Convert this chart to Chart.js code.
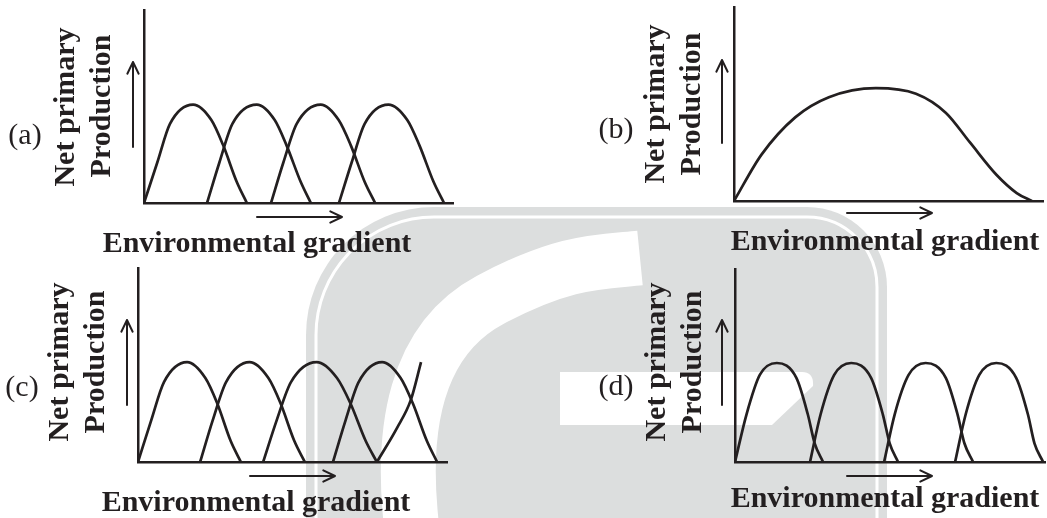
<!DOCTYPE html>
<html>
<head>
<meta charset="utf-8">
<script src="https://cdn.jsdelivr.net/npm/chart.js@4.4.1/dist/chart.umd.min.js"></script>
<style>
  html, body { margin: 0; padding: 0; background: #fff; }
  #page { position: relative; width: 1047px; height: 518px; overflow: hidden; }
  #page canvas, #wm { position: absolute; left: 0; top: 0; }
  .t { position: absolute; font-family: "Liberation Serif", "Times New Roman", serif; color: #231f20;
       white-space: nowrap; line-height: 1; font-size: 30px; }
  .bold { font-weight: bold; }
</style>
</head>
<body>
<div id="page">
  <!-- faint logo watermark behind the figure -->
  <svg id="wm" width="1047" height="518">
    <path d="M306 530 L306 335 A128 128 0 0 1 434 207 L807 207 A80 80 0 0 1 887 287 L887 530 Z" fill="#dcdede"/>
    <path d="M316 530 L316 335 A118 118 0 0 1 434 217 L807 217 A70 70 0 0 1 877 287 L877 530" fill="none" stroke="#fff" stroke-width="3"/>
    <path d="M412 530 C400 430 415 340 490 300 S600 262 640 258" fill="none" stroke="#fff" stroke-width="55"/>
    <path d="M560 372 L802 372 Q814 372 813 386 L772 425 L560 425 Z" fill="#fff"/>
  </svg>
  <canvas id="pa" width="1047" height="518"></canvas>
  <canvas id="pb" width="1047" height="518"></canvas>
  <canvas id="pc" width="1047" height="518"></canvas>
  <canvas id="pd" width="1047" height="518"></canvas>
</div>
<script>
// ---- data (x: environmental gradient, y: net primary production, arbitrary 0-100 units) ----
const panelTags = ['(a)', '(b)', '(c)', '(d)'];
const yTitle = ['Net primary', 'Production'];
const xTitle = 'Environmental gradient';

// (a) four overlapping species curves
const aCurve1 = [[0,0],[4.3,21],[8.4,41],[15.9,51],[21.8,43],[25.6,30],[30.0,11],[33.3,0]];
const aCurve2 = [[20.4,0],[24.4,21],[28.6,41],[36.5,51],[42.3,43],[46.1,30],[50.7,11],[54.0,0]];
const aCurve3 = [[41.1,0],[45.1,21],[49.4,41],[57.2,51],[63.0,43],[66.9,30],[71.4,11],[74.8,0]];
const aCurve4 = [[63.1,0],[67.2,21],[71.4,41],[79.1,51],[85.2,43],[89.1,30],[93.7,11],[97.1,0]];

// (b) one broad curve
const bCurve = [[0,0],[8.9,23.9],[19.8,43.1],[30.7,53.5],[45.9,58.2],[58.9,55.3],[68.6,45.4],
                [76.3,30.3],[85.0,13.4],[91.5,4.1],[96.4,0]];

// (c) curves overlapping, the last one cut off
const cCurve1 = [[0,0],[4.3,21.6],[8.4,41.2],[15.9,51.5],[21.8,43.3],[25.6,30.4],[30.0,10.8],[33.3,0]];
const cCurve2 = [[20.1,0],[24.2,21.6],[28.5,41.2],[36.1,51.5],[42.2,43.3],[46.1,30.4],[50.6,10.8],[54.0,0]];
const cCurve3 = [[40.5,0],[44.9,21.6],[49.5,41.2],[57.8,51.5],[64.4,43.3],[68.7,30.4],[73.7,10.8],[77.3,0]];
const cCurve4 = [[63.1,0],[67.2,21.6],[71.4,41.2],[79.0,51.5],[85.0,43.3],[88.9,30.4],[93.5,10.8],[96.8,0]];
const cCurve5 = [[77.3,0],[83.8,17.5],[88.3,32],[91.6,51.5]];

// (d) narrow curves, barely overlapping
const dCurve1 = [[0,0],[3.7,24.6],[8.0,45.1],[13.5,51.3],[19.8,43.6],[23.5,24.6],[25.7,9.7],[28.4,0]];
const dCurve2 = [[24.2,0],[27.6,24.6],[32.0,45.1],[37.5,51.3],[43.9,43.6],[47.7,24.6],[49.9,9.7],[52.6,0]];
const dCurve3 = [[48.1,0],[51.5,24.6],[56.0,45.1],[61.5,51.3],[68.0,43.6],[71.8,24.6],[74.0,9.7],[76.8,0]];
const dCurve4 = [[71.0,0],[74.4,24.6],[78.8,45.1],[84.3,51.3],[90.7,43.6],[94.5,24.6],[96.6,9.7],[99.4,0]];

// ---- layout (page pixels) ----
const W = 1047, H = 518;
const INK = '#231f20';

const panels = [
  { id: 'pa', curves: [aCurve1, aCurve2, aCurve3, aCurve4],
    box: { left: 144, top: 10, right: 453, bottom: 203 },
    arrows: [[133, 147, 133, 62], [257, 217, 342, 217]],
    tag: [25, 119], np: [64, 107], prod: [100, 106], xt: [257, 227] },
  { id: 'pb', curves: [bCurve],
    box: { left: 734, top: 7, right: 1043, bottom: 201 },
    arrows: [[722, 143, 722, 60], [847, 213, 932, 213]],
    tag: [616, 113], np: [654, 104], prod: [690, 104], xt: [885, 225] },
  { id: 'pc', curves: [cCurve1, cCurve2, cCurve3, cCurve4, cCurve5],
    box: { left: 138, top: 268, right: 447, bottom: 462 },
    arrows: [[127, 405, 127, 320], [250, 476, 335, 476]],
    tag: [22, 371], np: [58, 362], prod: [94, 362], xt: [256, 486] },
  { id: 'pd', curves: [dCurve1, dCurve2, dCurve3, dCurve4],
    box: { left: 735, top: 269, right: 1045, bottom: 462 },
    arrows: [[722, 405, 722, 320], [847, 476, 932, 476]],
    tag: [616, 370], np: [655, 362], prod: [691, 362], xt: [885, 482] }
];

// open arrow heads drawn on the chart canvas
const arrowPlugin = {
  id: 'arrows',
  afterDraw(chart, args, opts) {
    const ctx = chart.ctx;
    ctx.save();
    ctx.strokeStyle = INK;
    ctx.lineWidth = 2;
    ctx.lineCap = 'round';
    (opts.list || []).forEach(([x1, y1, x2, y2]) => {
      const ang = Math.atan2(y2 - y1, x2 - x1);
      ctx.beginPath();
      ctx.moveTo(x1, y1);
      ctx.lineTo(x2, y2);
      [0.45, -0.45].forEach(d => {
        ctx.moveTo(x2, y2);
        ctx.lineTo(x2 - 13 * Math.cos(ang + d), y2 - 13 * Math.sin(ang + d));
      });
      ctx.stroke();
    });
    ctx.restore();
  }
};

function hiddenAxis() {
  return {
    type: 'linear', min: 0, max: 100,
    grid: { display: false, drawTicks: false },
    ticks: { display: false },
    border: { display: true, color: INK, width: 2.5 }
  };
}

function addText(txt, cls, css) {
  const el = document.createElement('div');
  el.className = 't ' + cls;
  el.textContent = txt;
  Object.assign(el.style, css);
  document.getElementById('page').appendChild(el);
}

panels.forEach((p, i) => {
  new Chart(document.getElementById(p.id), {
    type: 'line',
    data: {
      datasets: p.curves.map(c => ({
        data: c.map(([x, y]) => ({ x, y })),
        borderColor: INK,
        borderWidth: 2.7,
        pointRadius: 0,
        fill: false,
        cubicInterpolationMode: 'monotone'
      }))
    },
    options: {
      responsive: false,
      animation: false,
      events: [],
      layout: {
        autoPadding: false,
        padding: { left: p.box.left, top: p.box.top, right: W - p.box.right, bottom: H - p.box.bottom }
      },
      plugins: {
        legend: { display: false },
        tooltip: { enabled: false },
        arrows: { list: p.arrows }
      },
      scales: { x: hiddenAxis(), y: hiddenAxis() }
    },
    plugins: [arrowPlugin]
  });

  addText(panelTags[i], '', { left: p.tag[0] + 'px', top: p.tag[1] + 'px', transform: 'translateX(-50%)' });
  addText(yTitle[0], 'bold', { left: p.np[0] + 'px', top: p.np[1] + 'px',
    transform: 'translate(-50%,-50%) rotate(-90deg)' });
  addText(yTitle[1], 'bold', { left: p.prod[0] + 'px', top: p.prod[1] + 'px',
    transform: 'translate(-50%,-50%) rotate(-90deg)' });
  addText(xTitle, 'bold', { left: p.xt[0] + 'px', top: p.xt[1] + 'px', transform: 'translateX(-50%)' });
});
</script>
</body>
</html>
